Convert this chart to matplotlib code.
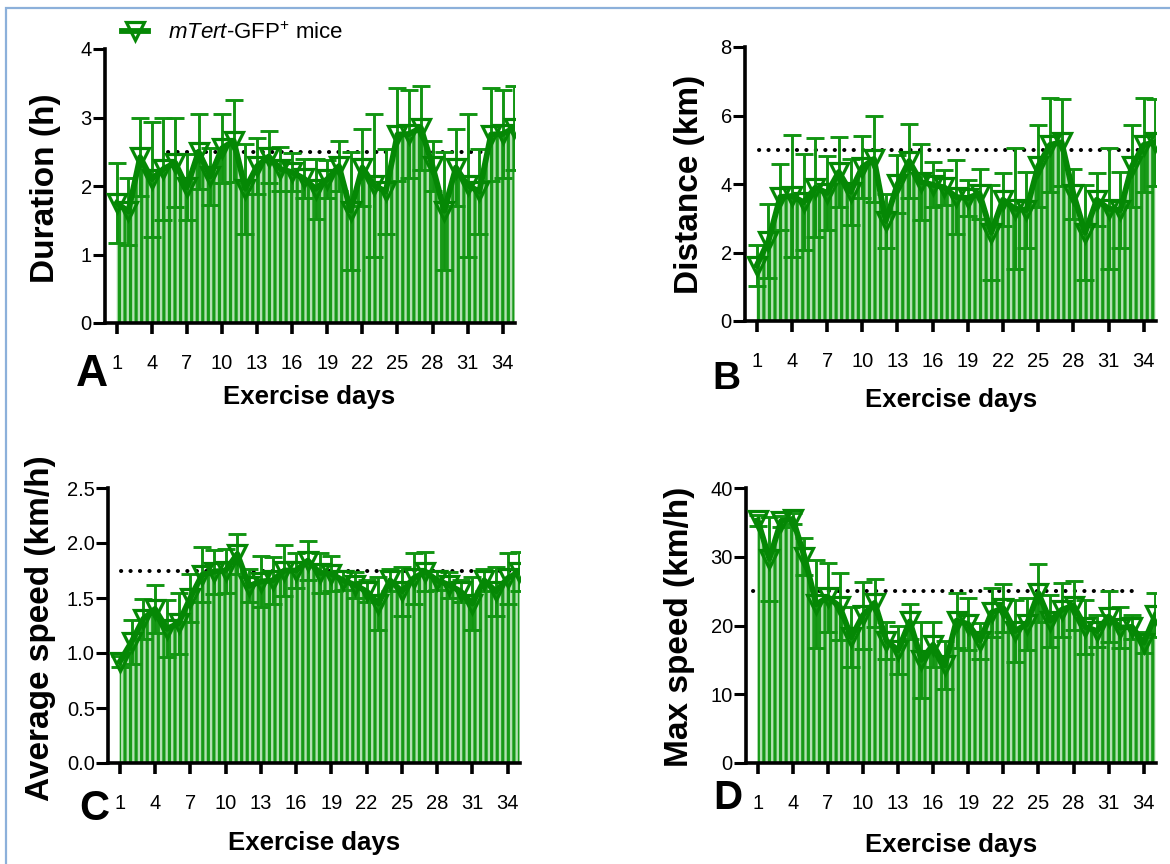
import numpy as np
import matplotlib
matplotlib.use("Agg")
import matplotlib.pyplot as plt
from matplotlib.patches import Rectangle

# ---------------------------------------------------------------- data
days = np.arange(1, 36)
day_ticks = [1, 4, 7, 10, 13, 16, 19, 22, 25, 28, 31, 34]
day_tick_labels = [str(d) for d in day_ticks]

duration_mean = [1.75, 1.63, 2.42, 2.10, 2.25, 2.34, 1.98, 2.50, 2.14, 2.55,
                 2.66, 1.96, 2.29, 2.43, 2.25, 2.20, 2.11, 1.96, 2.10, 2.29,
                 1.64, 2.27, 2.01, 1.92, 2.75, 2.76, 2.85, 2.29, 1.64, 2.27,
                 2.01, 1.92, 2.75, 2.76, 2.85]
duration_err = [0.58, 0.49, 0.57, 0.84, 0.74, 0.65, 0.48, 0.55, 0.42, 0.50,
                0.60, 0.66, 0.41, 0.38, 0.32, 0.28, 0.29, 0.44, 0.28, 0.37,
                0.86, 0.56, 1.04, 0.62, 0.68, 0.64, 0.61, 0.37, 0.86, 0.56,
                1.04, 0.62, 0.68, 0.64, 0.61]

distance_mean = [1.62, 2.34, 3.62, 3.65, 3.47, 3.89, 3.74, 4.35, 3.77, 4.49,
                 4.73, 2.92, 3.99, 4.67, 4.06, 3.98, 3.90, 3.62, 3.59, 3.72,
                 2.58, 3.54, 3.28, 3.24, 4.52, 5.14, 5.22, 3.72, 2.58, 3.54,
                 3.28, 3.24, 4.52, 5.14, 5.22]
distance_err = [0.60, 1.07, 0.97, 1.77, 1.40, 1.45, 1.08, 1.02, 0.97, 0.90,
                1.25, 0.80, 0.85, 1.09, 1.10, 0.65, 0.52, 1.09, 0.53, 0.73,
                1.38, 0.77, 1.77, 1.12, 1.19, 1.38, 1.27, 0.73, 1.38, 0.77,
                1.77, 1.12, 1.19, 1.38, 1.27]

avg_speed_mean = [0.92, 1.10, 1.31, 1.40, 1.22, 1.27, 1.50, 1.71, 1.74, 1.75,
                  1.90, 1.61, 1.65, 1.66, 1.75, 1.75, 1.84, 1.73, 1.72, 1.66,
                  1.62, 1.56, 1.45, 1.66, 1.56, 1.68, 1.74, 1.66, 1.62, 1.56,
                  1.45, 1.66, 1.56, 1.68, 1.74]
avg_speed_err = [0.05, 0.20, 0.18, 0.22, 0.26, 0.28, 0.22, 0.25, 0.20, 0.20,
                 0.18, 0.15, 0.23, 0.21, 0.23, 0.16, 0.18, 0.18, 0.16, 0.09,
                 0.12, 0.10, 0.24, 0.10, 0.22, 0.23, 0.18, 0.09, 0.12, 0.10,
                 0.24, 0.10, 0.22, 0.23, 0.18]

max_speed_mean = [35.3, 29.7, 35.2, 35.5, 30.0, 23.1, 24.1, 22.8, 18.3, 21.5,
                  23.3, 17.8, 16.4, 20.6, 15.0, 17.2, 14.2, 20.7, 20.2, 17.8,
                  21.9, 22.5, 19.2, 20.2, 24.7, 20.7, 22.3, 22.9, 19.8, 19.2,
                  21.3, 19.7, 19.8, 17.5, 21.5]
max_speed_err = [0.8, 6.1, 0.8, 0.8, 2.7, 6.4, 5.0, 4.9, 4.4, 4.9,
                 3.5, 2.7, 3.5, 2.5, 5.5, 3.3, 3.5, 4.0, 3.8, 2.6,
                 3.5, 3.5, 4.5, 3.8, 4.2, 3.8, 3.9, 3.6, 3.9, 2.3,
                 3.7, 3.0, 1.8, 1.5, 3.2]

# reference (target) levels and the day span of each dotted line
ref_levels = [2.5, 5.0, 1.75, 25.0]
ref_spans = [(5.4, 32.5), (1.2, 35.0), (1.1, 34.6), (0.6, 33.7)]

y_ticks = [[0, 1, 2, 3, 4],
           [0, 2, 4, 6, 8],
           [0.0, 0.5, 1.0, 1.5, 2.0, 2.5],
           [0, 10, 20, 30, 40]]
y_tick_labels = [["0", "1", "2", "3", "4"],
                 ["0", "2", "4", "6", "8"],
                 ["0.0", "0.5", "1.0", "1.5", "2.0", "2.5"],
                 ["0", "10", "20", "30", "40"]]
y_labels = ["Duration (h)", "Distance (km)", "Average speed (km/h)",
            "Max speed (km/h)"]
panel_letters = ["A", "B", "C", "D"]
series_label = r"$\mathit{mTert}$-GFP$^{+}$ mice"

# ---------------------------------------------------------------- style
STRIPE = "#189a18"
GAP = "#b4e1b4"
LINE = "#058805"
ERR = "#129512"

plt.rcParams.update({
    "font.family": ["Liberation Sans", "DejaVu Sans"],
    "mathtext.fontset": "custom",
    "mathtext.rm": "Liberation Sans",
    "mathtext.it": "Liberation Sans:italic",
    "hatch.linewidth": 2.3,
    "hatch.color": STRIPE,
})

W, H = 1170, 864
fig = plt.figure(figsize=(W / 100, H / 100), dpi=100)


def px_box(left, top, right, bottom):
    return [left / W, 1 - bottom / H, (right - left) / W, (bottom - top) / H]


layout = [
    dict(rect=px_box(105, 49, 515, 323), ylab=(-0.144, 0.49), xlab=(0.498, -0.27),
         letter=(92, 375), lsize=32),
    dict(rect=px_box(745, 47, 1156, 321), ylab=(-0.136, 0.50), xlab=(0.501, -0.288),
         letter=(726, 379), lsize=28),
    dict(rect=px_box(108, 488, 520, 763), ylab=(-0.163, 0.49), xlab=(0.50, -0.291),
         letter=(94, 809), lsize=30),
    dict(rect=px_box(746, 488, 1156, 763), ylab=(-0.161, 0.495), xlab=(0.50, -0.298),
         letter=(728, 798), lsize=29),
]

means = [duration_mean, distance_mean, avg_speed_mean, max_speed_mean]
errs = [duration_err, distance_err, avg_speed_err, max_speed_err]

series_lines = []
for i in range(4):
    spec = layout[i]
    ax = fig.add_axes(spec["rect"])
    m = np.asarray(means[i])
    e = np.asarray(errs[i])

    # dotted reference level sits behind the filled area
    ax.plot(ref_spans[i], [ref_levels[i], ref_levels[i]], color="black",
            lw=2.9, ls=(0, (0.05, 2.3)), dash_capstyle="round", zorder=1)

    # striped area under the mean curve
    ax.fill_between(days, 0, m, facecolor=GAP, edgecolor=STRIPE, hatch="|||",
                    linewidth=0, zorder=2)

    ax.errorbar(days, m, yerr=e, fmt="none", ecolor=ERR, elinewidth=2.1,
                capsize=6.5, capthick=2.1, zorder=3)

    ln, = ax.plot(days, m, color=LINE, lw=4.2, marker="v", ms=13,
                  mfc="none", mec=LINE, mew=2.3, zorder=4)
    series_lines.append(ln)

    ax.set_xlim(0, 35.05)
    ax.set_ylim(y_ticks[i][0], y_ticks[i][-1])
    ax.set_xticks(day_ticks)
    ax.set_xticklabels(day_tick_labels)
    ax.set_yticks(y_ticks[i])
    ax.set_yticklabels(y_tick_labels[i])

    for side in ("top", "right"):
        ax.spines[side].set_visible(False)
    for side in ("left", "bottom"):
        ax.spines[side].set_linewidth(2.6)
    ax.tick_params(axis="x", length=8, width=2.6, pad=14, labelsize=14.5)
    ax.tick_params(axis="y", length=8.5, width=2.2, pad=1, labelsize=14.5)

    ax.set_ylabel(y_labels[i], fontsize=24, fontweight="bold", va="center")
    ax.yaxis.set_label_coords(*spec["ylab"])
    ax.set_xlabel("Exercise days", fontsize=18.5, fontweight="bold", va="center")
    ax.xaxis.set_label_coords(*spec["xlab"])

    lx, ly = spec["letter"]
    fig.text(lx / W, 1 - ly / H, panel_letters[i], fontsize=spec["lsize"],
             fontweight="bold", ha="center", va="center")

fig.legend(handles=[series_lines[0]], labels=[series_label],
           loc="center left", bbox_to_anchor=(122 / W, 1 - 33 / H),
           frameon=False, fontsize=16, handlelength=1.15, handletextpad=0.9,
           borderpad=0, borderaxespad=0)

# thin blue frame around the figure
fig.patches.append(Rectangle((6 / W, -0.2), 1.5, 1.2 - 8 / H,
                             transform=fig.transFigure, fill=False,
                             edgecolor="#8cb0da", linewidth=1.6))

fig.savefig("out.png", dpi=100)
